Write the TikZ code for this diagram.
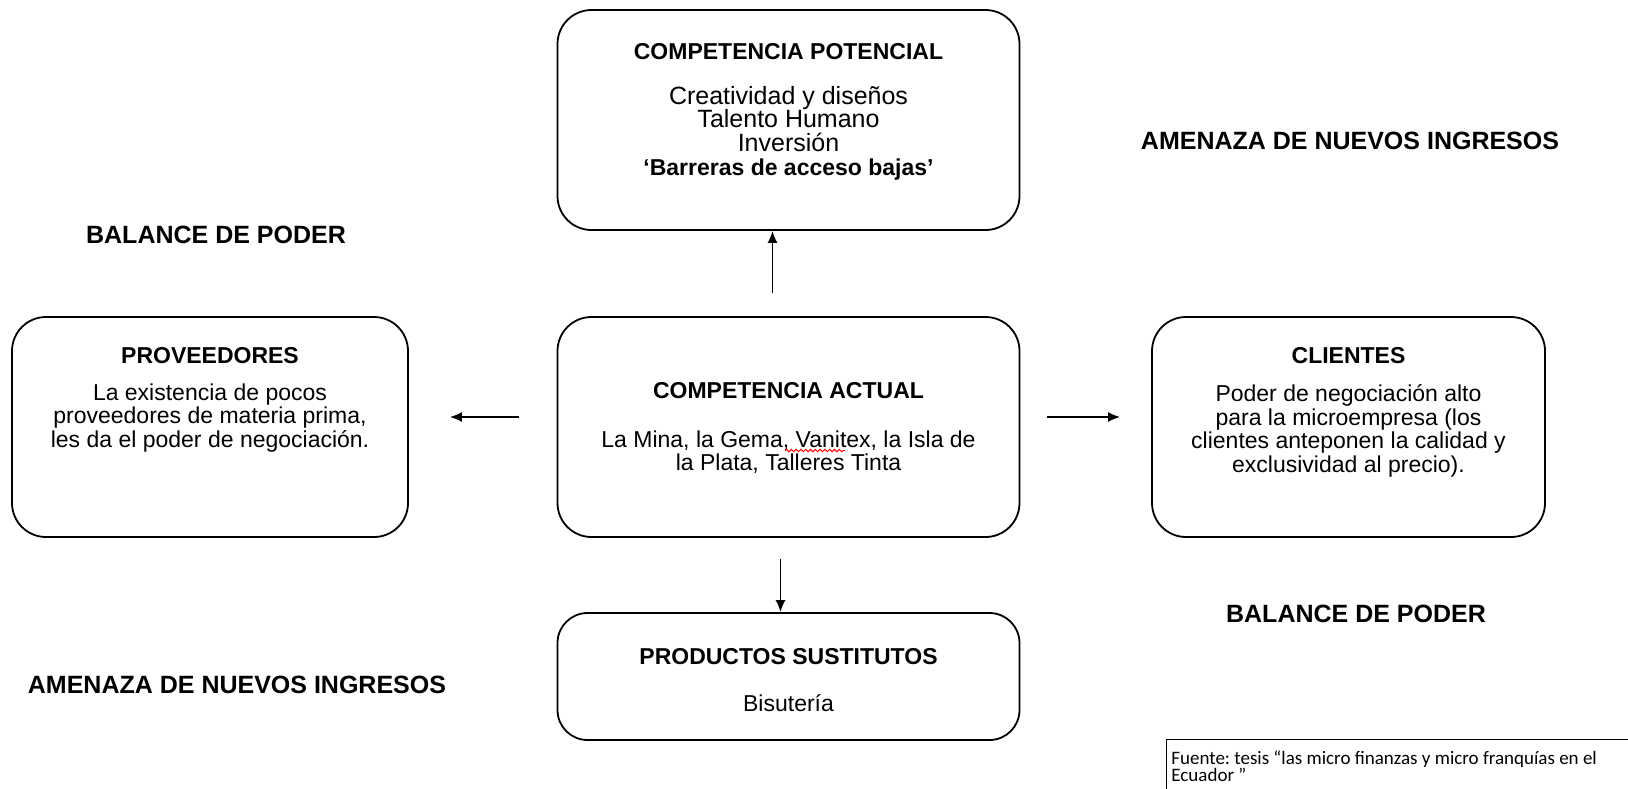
\documentclass[tikz,border=0pt]{standalone}
\usepackage{fontspec}
\setmainfont{Liberation Sans}
\newfontfamily\notafont{Carlito}
\usetikzlibrary{arrows.meta,decorations.pathmorphing}
\frenchspacing

\tikzset{
  caja/.style={draw, line width=0.9pt, rounded corners=17pt, minimum width=231pt, minimum height=110pt, inner sep=0pt},
  titulo/.style={font=\bfseries\fontsize{11.5}{13}\selectfont},
  cuerpo/.style={align=center, font=\fontsize{11.5}{11.8}\selectfont},
  fuerza/.style={font=\bfseries\fontsize{12.5}{15}\selectfont},
  flecha/.style={-{Latex[length=6pt,width=5pt]}, line width=0.8pt},
}

\begin{document}
\begin{tikzpicture}[x=0.5pt, y=-0.5pt]
      \clip (0,0) rectangle (1628,788);
      % cajas
      \node[caja] (potencial) at (788.5,120) {};
      \node[caja] (actual) at (788.5,427) {};
      \node[caja, minimum width=198pt] (proveedores) at (210,427) {};
      \node[caja, minimum width=196.5pt] (clientes) at (1348.5,427) {};
      \node[caja, minimum height=63.5pt, rounded corners=15pt] (sustitutos) at (788.5,676.5) {};
      % textos
      \node[titulo] (potencial-t) at (788.5,52) {COMPETENCIA POTENCIAL};
      \node[cuerpo, font=\fontsize{12.5}{11.8}\selectfont] (potencial-c) at (788.5,133)
        {Creatividad y diseños\\Talento Humano\\Inversión\\\textbf{\fontsize{11.5}{11.8}\selectfont ‘Barreras de acceso bajas’}};
      \node[titulo] (actual-t) at (788.5,391) {COMPETENCIA ACTUAL};
      \node[cuerpo] (actual-c) at (788.5,452)
        {La Mina, la Gema, Vanitex, la Isla de\\la Plata, Talleres Tinta};
      \node[titulo] (proveedores-t) at (210,356) {PROVEEDORES};
      \node[cuerpo] (proveedores-c) at (210,418)
        {La existencia de pocos\\proveedores de materia prima,\\les da el poder de negociación.};
      \node[titulo] (clientes-t) at (1348.5,356) {CLIENTES};
      \node[cuerpo] (clientes-c) at (1348.5,431)
        {Poder de negociación alto\\para la microempresa (los\\clientes anteponen la calidad y\\exclusividad al precio).};
      \node[titulo] (sustitutos-t) at (788.5,657) {PRODUCTOS SUSTITUTOS};
      \node[cuerpo] (sustitutos-c) at (788.5,703) {Bisutería};
      % subrayado del corrector
      \draw[red, line width=0.5pt, decorate, decoration={snake, amplitude=0.6pt, segment length=2.4pt}]
        (785,450.5) -- (845,450.5);
      % fuerzas
      \node[fuerza] (amenaza1) at (1350,141) {AMENAZA DE NUEVOS INGRESOS};
      \node[fuerza] (amenaza2) at (237,685) {AMENAZA DE NUEVOS INGRESOS};
      \node[fuerza] (balance1) at (216,235) {BALANCE DE PODER};
      \node[fuerza] (balance2) at (1356,614) {BALANCE DE PODER};
      % fuente
      \node[draw, line width=0.7pt, anchor=north west, minimum width=300pt, minimum height=40pt] (fuente) at (1166,739) {};
      \node[anchor=north west, align=left, inner sep=1pt, font=\notafont\fontsize{9.5}{8.8}\selectfont]
        (fuente-t) at ([xshift=1.5pt,yshift=-4.5pt]fuente.north west)
        {Fuente: tesis “las micro finanzas y micro franquías en el\\Ecuador ”};
      % flechas
      \draw[flecha, shorten <=11.5pt] ([xshift=-8pt]actual.north) -- ([xshift=-8pt]potencial.south);
      \draw[flecha, shorten <=10.5pt] ([xshift=-4pt]actual.south) -- ([xshift=-4pt]sustitutos.north);
      \draw[flecha, shorten <=19pt, shorten >=20.5pt] ([yshift=5pt]actual.west) -- ([yshift=5pt]proveedores.east);
      \draw[flecha, shorten <=13.5pt, shorten >=15.5pt] ([yshift=5pt]actual.east) -- ([yshift=5pt]clientes.west);
\end{tikzpicture}
\end{document}
